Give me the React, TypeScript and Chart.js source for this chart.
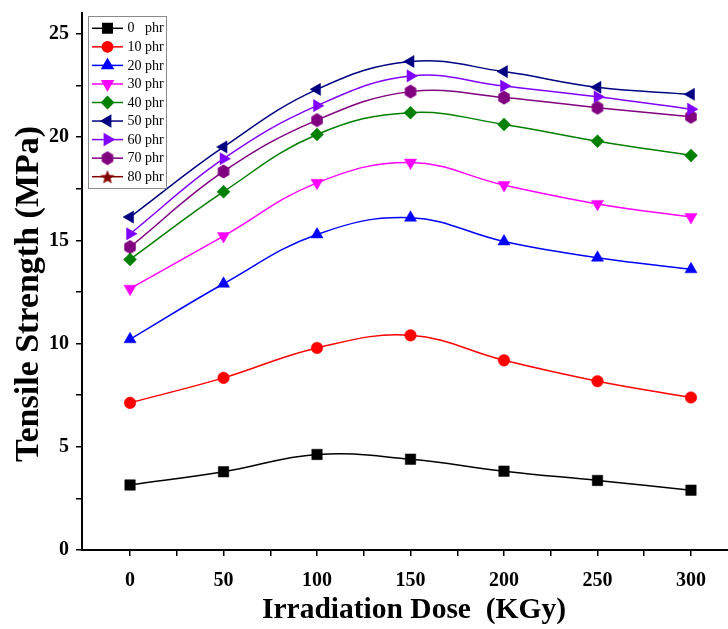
import React, { useEffect, useRef } from 'react';
import { Chart, registerables } from 'chart.js';
import { drawPoint } from 'chart.js/helpers';

Chart.register(...registerables);

// ---------- data ----------
const doses = [0, 50, 100, 150, 200, 250, 300];
const seriesLabels = ['0   phr', '10 phr', '20 phr', '30 phr', '40 phr', '50 phr', '60 phr', '70 phr', '80 phr'];
const phr0 = [3.15, 3.79, 4.63, 4.4, 3.82, 3.37, 2.9];
const phr10 = [7.13, 8.34, 9.79, 10.4, 9.19, 8.18, 7.39];
const phr20 = [10.21, 12.9, 15.29, 16.1, 14.95, 14.16, 13.6];
const phr30 = [12.66, 15.21, 17.79, 18.77, 17.68, 16.77, 16.13];
const phr40 = [14.08, 17.36, 20.13, 21.19, 20.62, 19.81, 19.12];
const phr50 = [16.13, 19.53, 22.32, 23.67, 23.18, 22.42, 22.08];
const phr60 = [15.32, 18.96, 21.53, 22.97, 22.48, 21.96, 21.36];
const phr70 = [14.68, 18.34, 20.83, 22.21, 21.92, 21.43, 20.99];
const phr80: number[] = [];

const xTicks = [0, 25, 50, 75, 100, 125, 150, 175, 200, 225, 250, 275, 300];
const xTickLabels = [0, 50, 100, 150, 200, 250, 300];
const yTicks = [0, 2.5, 5, 7.5, 10, 12.5, 15, 17.5, 20, 22.5, 25];
const yTickLabels = [0, 5, 10, 15, 20, 25];

const xTitle = 'Irradiation Dose  (KGy)';
const yTitle = 'Tensile Strength (MPa)';

const SERIF = "'Liberation Serif', 'Times New Roman', serif";

function makeHexagon(color: string): HTMLCanvasElement {
  const c = document.createElement('canvas');
  c.width = 14;
  c.height = 15;
  const g = c.getContext('2d')!;
  g.fillStyle = color;
  g.beginPath();
  const r = 7;
  for (let i = 0; i < 6; i++) {
    const a = (Math.PI / 3) * i - Math.PI / 2;
    const px = 7 + Math.cos(a) * r * 0.95;
    const py = 7.5 + Math.sin(a) * r;
    if (i === 0) g.moveTo(px, py);
    else g.lineTo(px, py);
  }
  g.closePath();
  g.fill();
  return c;
}

function makeStar(color: string): HTMLCanvasElement {
  const c = document.createElement('canvas');
  c.width = 16;
  c.height = 16;
  const g = c.getContext('2d')!;
  g.fillStyle = color;
  g.beginPath();
  const R = 7.5;
  const r = 3.2;
  for (let i = 0; i < 10; i++) {
    const a = (Math.PI / 5) * i - Math.PI / 2;
    const rad = i % 2 === 0 ? R : r;
    const px = 8 + Math.cos(a) * rad;
    const py = 8.8 + Math.sin(a) * rad;
    if (i === 0) g.moveTo(px, py);
    else g.lineTo(px, py);
  }
  g.closePath();
  g.fill();
  return c;
}

export default function App() {
  const ref = useRef<HTMLCanvasElement>(null);

  useEffect(() => {
    const hex = makeHexagon('#800080');
    const star = makeStar('#800000');

    const styles: { color: string; pointStyle: any; radius: number; rotation: number }[] = [
      { color: '#000000', pointStyle: 'rect', radius: 7.4, rotation: 0 },
      { color: '#FF0000', pointStyle: 'circle', radius: 5.8, rotation: 0 },
      { color: '#0000FF', pointStyle: 'triangle', radius: 7, rotation: 0 },
      { color: '#FF00FF', pointStyle: 'triangle', radius: 7, rotation: 180 },
      { color: '#008000', pointStyle: 'rectRot', radius: 6.5, rotation: 0 },
      { color: '#000080', pointStyle: 'triangle', radius: 7, rotation: 270 },
      { color: '#8000FF', pointStyle: 'triangle', radius: 7, rotation: 90 },
      { color: '#800080', pointStyle: hex, radius: 7, rotation: 0 },
      { color: '#800000', pointStyle: star, radius: 7, rotation: 0 },
    ];
    const values = [phr0, phr10, phr20, phr30, phr40, phr50, phr60, phr70, phr80];

    const datasets = values.map((vals, i) => ({
      label: seriesLabels[i],
      data: vals.map((v, j) => ({ x: doses[j], y: v })),
      borderColor: styles[i].color,
      backgroundColor: styles[i].color,
      pointBackgroundColor: styles[i].color,
      pointBorderColor: styles[i].color,
      pointBorderWidth: 0.5,
      pointStyle: styles[i].pointStyle,
      pointRadius: styles[i].radius,
      pointRotation: styles[i].rotation,
      borderWidth: 1.5,
      tension: 0.4,
      fill: false,
    }));

    const legendPlugin = {
      id: 'insideLegend',
      afterDraw(chart: any) {
        const ctx = chart.ctx as CanvasRenderingContext2D;
        const left = 88.5;
        const top = 16.5;
        const w = 78;
        const h = 172;
        ctx.save();
        ctx.fillStyle = '#ffffff';
        ctx.fillRect(left, top, w, h);
        ctx.strokeStyle = '#8a8a8a';
        ctx.lineWidth = 1;
        ctx.strokeRect(left, top, w, h);
        const rowH = 18.55;
        for (let i = 0; i < seriesLabels.length; i++) {
          const cy = 28.3 + i * rowH;
          const st = styles[i];
          ctx.strokeStyle = st.color;
          ctx.lineWidth = 1.5;
          ctx.beginPath();
          ctx.moveTo(92, cy);
          ctx.lineTo(123, cy);
          ctx.stroke();
          ctx.fillStyle = st.color;
          ctx.strokeStyle = st.color;
          const opts = { pointStyle: st.pointStyle, rotation: st.rotation, radius: st.radius * 0.9, borderWidth: 0.5 };
          drawPoint(ctx, opts as any, 107.5, cy);
          ctx.fillStyle = '#000000';
          ctx.font = `14px ${SERIF}`;
          ctx.textBaseline = 'middle';
          ctx.textAlign = 'left';
          ctx.fillText(seriesLabels[i], 127.5, cy + 0.5);
        }

        // axis titles
        ctx.fillStyle = '#000000';
        ctx.textAlign = 'center';
        ctx.textBaseline = 'middle';
        ctx.font = `bold 29.5px ${SERIF}`;
        ctx.fillText(xTitle, 414, 610);
        ctx.save();
        ctx.translate(29, 294);
        ctx.rotate(-Math.PI / 2);
        ctx.font = `bold 34px ${SERIF}`;
        ctx.fillText(yTitle, 0, 0);
        ctx.restore();
        ctx.restore();
      },
    };

    const chart = new Chart(ref.current!, {
      type: 'line',
      data: { datasets: datasets as any },
      options: {
        animation: false,
        responsive: false,
        devicePixelRatio: 1,
        layout: { autoPadding: false, padding: { top: 13.4, right: 0, left: 0, bottom: 0 } },
        plugins: {
          legend: { display: false },
          tooltip: { enabled: false },
        },
        scales: {
          x: {
            type: 'linear',
            min: -25.7,
            max: 319.8,
            afterBuildTicks: (axis: any) => {
              axis.ticks = xTicks.map((v) => ({ value: v }));
            },
            afterFit: (scale: any) => {
              scale.height = 79;
              scale.paddingLeft = 0;
              scale.paddingRight = 0;
            },
            grid: { drawOnChartArea: false, drawTicks: true, tickLength: 6, color: '#000', lineWidth: 1.5 },
            border: { display: true, color: '#000', width: 2 },
            ticks: {
              autoSkip: false,
              maxRotation: 0,
              padding: 13,
              color: '#000',
              font: { family: SERIF, size: 20, weight: 'bold' },
              callback: (v: any) => (xTickLabels.includes(Number(v)) ? String(v) : ''),
            },
            title: { display: false, text: xTitle },
          },
          y: {
            type: 'linear',
            min: 0,
            max: 26,
            afterBuildTicks: (axis: any) => {
              axis.ticks = yTicks.map((v) => ({ value: v }));
            },
            afterFit: (scale: any) => {
              scale.width = 82;
              scale.paddingTop = 0;
              scale.paddingBottom = 0;
            },
            grid: { drawOnChartArea: false, drawTicks: true, tickLength: 6, color: '#000', lineWidth: 1.5 },
            border: { display: true, color: '#000', width: 2 },
            ticks: {
              autoSkip: false,
              padding: 7,
              color: '#000',
              font: { family: SERIF, size: 20, weight: 'bold' },
              callback: (v: any) => (yTickLabels.includes(Number(v)) ? String(v) : ''),
            },
            title: { display: false, text: yTitle },
          },
        },
      },
      plugins: [legendPlugin],
    } as any);
    return () => chart.destroy();
  }, []);

  return (
    <div style={{ position: 'fixed', left: 0, top: 0, width: 728, height: 629, background: '#fff' }}>
      <canvas ref={ref} width={728} height={629} style={{ display: 'block', width: 728, height: 629 }} />
    </div>
  );
}
